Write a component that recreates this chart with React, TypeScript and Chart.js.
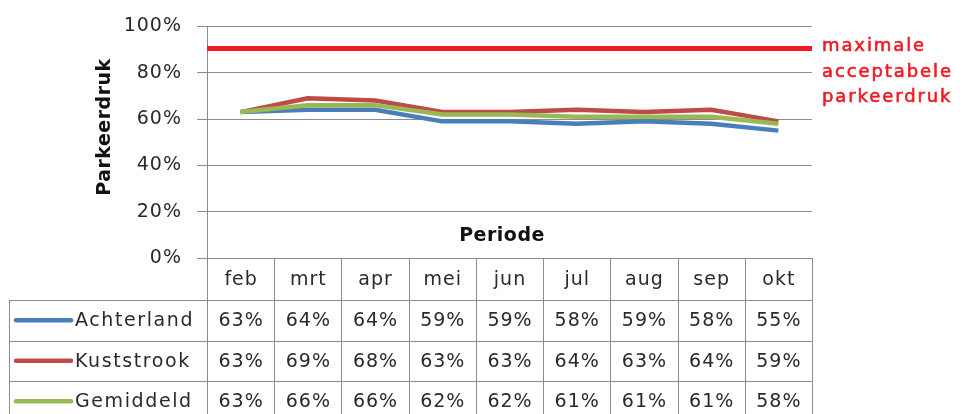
import React, { useEffect, useRef } from 'react';
import { Chart, registerables } from 'chart.js';

Chart.register(...registerables);

const months = ['feb', 'mrt', 'apr', 'mei', 'jun', 'jul', 'aug', 'sep', 'okt'];
const achterland = [63, 64, 64, 59, 59, 58, 59, 58, 55];
const kuststrook = [63, 69, 68, 63, 63, 64, 63, 64, 59];
const gemiddeld = [63, 66, 66, 62, 62, 61, 61, 61, 58];
const seriesNames = ['Achterland', 'Kuststrook', 'Gemiddeld'];
const seriesValues = [achterland, kuststrook, gemiddeld];
const seriesColors = ['#4a7ebb', '#be4b48', '#98b954'];
const maxAcceptable = 90;
const maxLabelLines = ['maximale', 'acceptabele', 'parkeerdruk'];
const yTitle = 'Parkeerdruk';
const xTitle = 'Periode';

const FONT = 'DejaVu Sans';
const GRID = '#8c8c8c';
const TEXT = '#2a2a2a';
const RED = '#ee1c25';

const line = (ctx: CanvasRenderingContext2D, x1: number, y1: number, x2: number, y2: number) => {
  ctx.beginPath();
  ctx.moveTo(x1, y1);
  ctx.lineTo(x2, y2);
  ctx.stroke();
};
const al = (v: number) => Math.round(v) + 0.5;

const customPlugin = {
  id: 'custom',
  beforeDraw(chart: any) {
    chart.ctx.letterSpacing = '1px';
  },
  afterDatasetsDraw(chart: any) {
    const ctx: CanvasRenderingContext2D = chart.ctx;
    const { left, right } = chart.chartArea;
    const y = chart.scales.y.getPixelForValue(maxAcceptable);
    ctx.save();
    ctx.strokeStyle = RED;
    ctx.lineWidth = 5;
    line(ctx, left, y - 1, right, y - 1);
    ctx.restore();
  },
  afterDraw(chart: any) {
    const ctx: CanvasRenderingContext2D = chart.ctx;
    const { left, right, bottom } = chart.chartArea;
    const xs = chart.scales.x;
    const colW = xs.getPixelForValue(1) - xs.getPixelForValue(0);
    ctx.save();

    // red label
    ctx.fillStyle = RED;
    ctx.strokeStyle = RED;
    ctx.lineWidth = 0.6;
    ctx.font = `18px "${FONT}"`;
    (ctx as any).letterSpacing = '1.9px';
    ctx.textAlign = 'left';
    ctx.textBaseline = 'alphabetic';
    maxLabelLines.forEach((t, i) => {
      ctx.fillText(t, right + 10, 51 + i * 25.5);
      ctx.strokeText(t, right + 10, 51 + i * 25.5);
    });

    // titles
    (ctx as any).letterSpacing = '0.5px';
    ctx.fillStyle = '#111';
    ctx.font = `bold 19px "${FONT}"`;
    ctx.textAlign = 'center';
    ctx.textBaseline = 'middle';
    ctx.fillText(xTitle, 502, 236);
    ctx.save();
    ctx.translate(105, 127);
    ctx.rotate(-Math.PI / 2);
    ctx.fillText(yTitle, 0, 0);
    ctx.restore();

    // table grid
    const legendLeft = 9;
    const rows = [bottom, bottom + 42, bottom + 82.5, bottom + 123, bottom + 163.5];
    ctx.strokeStyle = GRID;
    ctx.lineWidth = 1;
    line(ctx, left, al(rows[0]), right, al(rows[0]));
    for (let r = 1; r < rows.length; r++) line(ctx, legendLeft, al(rows[r]), right, al(rows[r]));
    line(ctx, al(left), rows[0], al(left), rows[4]);
    for (let c = 1; c <= months.length; c++) {
      const x = al(left + c * colW);
      line(ctx, x, rows[0], x, rows[4]);
    }
    line(ctx, al(legendLeft), rows[1], al(legendLeft), rows[4]);

    // header
    ctx.font = `19px "${FONT}"`;
    (ctx as any).letterSpacing = '1px';
    ctx.fillStyle = TEXT;
    ctx.textAlign = 'center';
    ctx.textBaseline = 'middle';
    months.forEach((m, i) => ctx.fillText(m, xs.getPixelForValue(i) + 0.5, (rows[0] + rows[1]) / 2 + 1));

    // rows
    seriesValues.forEach((vals, s) => {
      const cy = (rows[s + 1] + rows[s + 2]) / 2;
      ctx.strokeStyle = seriesColors[s];
      ctx.lineWidth = 4.5;
      ctx.lineCap = 'round';
      line(ctx, 16, cy, 71, cy);
      ctx.fillStyle = TEXT;
      ctx.textAlign = 'left';
      (ctx as any).letterSpacing = '1.6px';
      ctx.fillText(seriesNames[s], 75, cy + 1);
      (ctx as any).letterSpacing = '1px';
      ctx.textAlign = 'center';
      vals.forEach((v, i) => ctx.fillText(`${v}%`, xs.getPixelForValue(i) + 0.5, cy + 1));
    });
    ctx.restore();
  },
};

export default function App() {
  const ref = useRef<HTMLCanvasElement>(null);
  useEffect(() => {
    if (!ref.current) return;
    const orders = [3, 2, 1];
    const chart = new Chart(ref.current, {
      type: 'line',
      data: {
        labels: months,
        datasets: seriesValues.map((vals, i) => ({
          label: seriesNames[i],
          data: vals,
          borderColor: seriesColors[i],
          backgroundColor: seriesColors[i],
          borderWidth: 4.5,
          pointRadius: 0,
          tension: 0,
          borderJoinStyle: 'round' as const,
          order: orders[i],
        })),
      },
      options: {
        animation: false,
        responsive: false,
        devicePixelRatio: 1,
        layout: { padding: { left: 0, top: 22, right: 151, bottom: 156 } },
        plugins: { legend: { display: false }, tooltip: { enabled: false } },
        scales: {
          x: { display: false, offset: true },
          y: {
            min: 0,
            max: 100,
            afterFit(s: any) {
              s.width = 207;
            },
            ticks: {
              stepSize: 20,
              callback: (v: any) => `${v}%`,
              padding: 15,
              color: TEXT,
              font: { family: FONT, size: 19 },
            },
            grid: { color: GRID, tickLength: 10, lineWidth: 1 },
            border: { color: GRID },
          },
        },
      },
      plugins: [customPlugin],
    });
    return () => chart.destroy();
  }, []);
  return (
    <div style={{ position: 'fixed', left: 0, top: 0, width: 963, height: 414, background: '#fff' }}>
      <canvas ref={ref} width={963} height={414} style={{ display: 'block' }} />
    </div>
  );
}
